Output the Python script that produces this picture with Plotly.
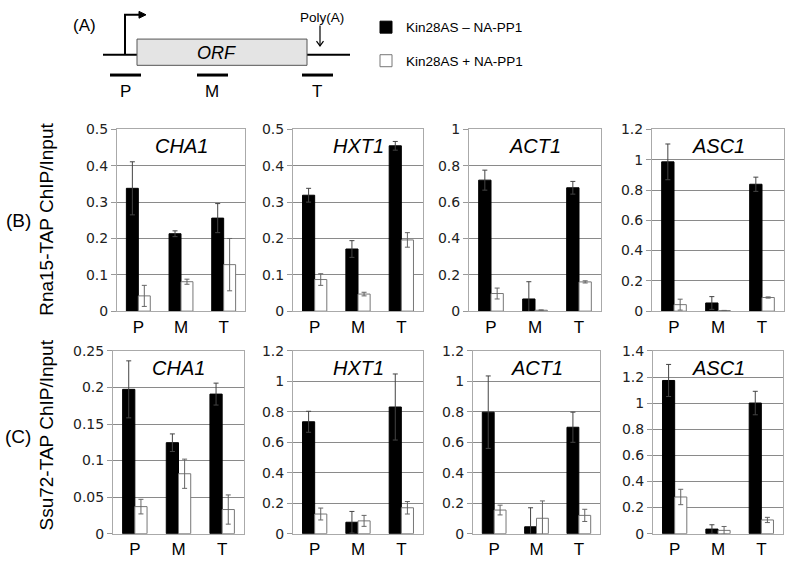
import plotly.graph_objects as go
from plotly.subplots import make_subplots

W, H = 787, 564

# data
genes = ['CHA1', 'HXT1', 'ACT1', 'ASC1']
regions = ['P', 'M', 'T']
series_names = ['Kin28AS \u2013 NA-PP1', 'Kin28AS + NA-PP1']

rna15_minus = [[0.338, 0.213, 0.256], [0.319, 0.171, 0.455], [0.721, 0.067, 0.679], [0.986, 0.054, 0.838]]
rna15_minus_err = [[0.073, 0.008, 0.040], [0.019, 0.023, 0.012], [0.055, 0.095, 0.035], [0.118, 0.042, 0.047]]
rna15_plus = [[0.042, 0.081, 0.128], [0.087, 0.047, 0.196], [0.097, 0.005, 0.161], [0.043, 0.004, 0.090]]
rna15_plus_err = [[0.029, 0.007, 0.072], [0.016, 0.005, 0.020], [0.030, 0.002, 0.006], [0.036, 0.001, 0.004]]

ssu72_minus = [[0.1975, 0.1245, 0.191], [0.735, 0.075, 0.832], [0.798, 0.045, 0.699], [1.174, 0.035, 1.001]]
ssu72_minus_err = [[0.039, 0.012, 0.015], [0.069, 0.071, 0.217], [0.238, 0.125, 0.099], [0.123, 0.033, 0.090]]
ssu72_plus = [[0.037, 0.082, 0.033], [0.129, 0.084, 0.170], [0.155, 0.101, 0.120], [0.281, 0.025, 0.105]]
ssu72_plus_err = [[0.010, 0.020, 0.020], [0.039, 0.036, 0.041], [0.032, 0.114, 0.040], [0.059, 0.030, 0.020]]

y_ranges = [[0.5, 0.5, 1.0, 1.2], [0.25, 1.2, 1.2, 1.4]]
y_dticks = [[0.1, 0.1, 0.2, 0.2], [0.05, 0.2, 0.2, 0.2]]
row_titles = ['Rna15-TAP ChIP/Input', 'Ssu72-TAP ChIP/Input']
row_tags = ['(B)', '(C)']

# panel placement in pixels
col_px = [[(117, 245), (293, 423), (469, 601), (652, 784)],
          [(113, 244), (293, 423), (473, 600), (653, 783)]]
row_px = [(125, 312), (353, 541)]


def fx(v):
    return v / W


def fy(v):
    return 1 - v / H


def sfx(n):
    return '' if n == 1 else str(n)


FONT = 'Liberation Sans, Arial, sans-serif'
TICKFONT = 'DejaVu Sans, Verdana, sans-serif'

fig = make_subplots(rows=2, cols=4)

rows_data = [(rna15_minus, rna15_minus_err, rna15_plus, rna15_plus_err),
             (ssu72_minus, ssu72_minus_err, ssu72_plus, ssu72_plus_err)]

for r, (m, me, p, pe) in enumerate(rows_data):
    for c in range(4):
        first = (r == 0 and c == 0)
        fig.add_trace(go.Bar(
            x=regions, y=m[c], name=series_names[0], legendgroup='a', showlegend=first,
            marker=dict(color='black', line=dict(color='black', width=1)),
            error_y=dict(type='data', array=me[c], color='#444', thickness=1, width=2.5),
        ), row=r + 1, col=c + 1)
        fig.add_trace(go.Bar(
            x=regions, y=p[c], name=series_names[1], legendgroup='b', showlegend=first,
            marker=dict(color='white', line=dict(color='#777', width=1)),
            error_y=dict(type='data', array=pe[c], color='#666', thickness=1, width=2.5),
        ), row=r + 1, col=c + 1)

annotations = []
for r in range(2):
    for c in range(4):
        n = r * 4 + c + 1
        x0, x1 = col_px[r][c]
        y0, y1 = row_px[r]
        fig.layout['xaxis' + sfx(n)].update(
            domain=[fx(x0), fx(x1)], anchor='y' + sfx(n),
            showline=True, linecolor='#aaa', mirror=True, ticks='',
            tickfont=dict(family=FONT, size=17, color='black'),
            showgrid=False,
        )
        fig.layout['yaxis' + sfx(n)].update(
            domain=[fy(y1), fy(y0)], anchor='x' + sfx(n),
            range=[0, y_ranges[r][c]], dtick=y_dticks[r][c],
            showline=True, linecolor='#aaa', mirror=True,
            ticks='outside', ticklen=5, tickcolor='#999',
            gridcolor='#8a8a8a', gridwidth=1, zeroline=False,
            tickfont=dict(family=TICKFONT, size=14, color='#222'),
        )
        annotations.append(dict(
            text='<i>%s</i>' % genes[c], xref='x%s domain' % sfx(n), yref='y%s domain' % sfx(n),
            x=0.5, y=1, xanchor='center', yanchor='top', yshift=-4, showarrow=False,
            font=dict(family=FONT, size=20, color='black'),
        ))

# row labels
for r in range(2):
    yc = [218, 440][r]
    annotations.append(dict(text=row_titles[r], x=fx(47), y=fy(yc), textangle=-90,
                            font=dict(family=FONT, size=19, color='black')))
    annotations.append(dict(text=row_tags[r], x=fx(18), y=fy(yc + 1),
                            font=dict(family=FONT, size=19, color='black')))

# gene schematic (A)
annotations += [
    dict(text='(A)', x=fx(84), y=fy(18)),
    dict(text='<i>ORF</i>', x=fx(216), y=fy(46), font=dict(family=FONT, size=18)),
    dict(text='Poly(A)', x=fx(322), y=fy(10), font=dict(family=FONT, size=13.5)),
    dict(text='P', x=fx(125), y=fy(86)),
    dict(text='M', x=fx(212), y=fy(86)),
    dict(text='T', x=fx(317), y=fy(86)),
]
for a in annotations:
    if a.get('xref') is None:
        a.update(xref='paper', yref='paper', xanchor='center', yanchor='middle', showarrow=False)
        a.setdefault('font', dict(family=FONT, size=17))

shapes = [
    dict(type='line', x0=fx(103), x1=fx(350), y0=fy(48), y1=fy(48), line=dict(color='black', width=2)),
    dict(type='rect', x0=fx(137), x1=fx(307), y0=fy(59), y1=fy(32), fillcolor='#e4e4e4',
         line=dict(color='#555', width=1)),
    dict(type='path', path='M %f %f L %f %f L %f %f' % (fx(125), fy(48), fx(125), fy(7), fx(140), fy(7)),
         line=dict(color='black', width=2)),
    dict(type='path', path='M %f %f L %f %f L %f %f Z' % (fx(139), fy(3.5), fx(146), fy(7), fx(139), fy(10.5)),
         fillcolor='black', line=dict(color='black', width=1)),
    dict(type='line', x0=fx(320), x1=fx(320), y0=fy(18), y1=fy(39), line=dict(color='black', width=1.2)),
    dict(type='path', path='M %f %f L %f %f L %f %f' % (fx(316.5), fy(34), fx(320), fy(39), fx(323.5), fy(34)),
         line=dict(color='black', width=1.2)),
    dict(type='line', x0=fx(110), x1=fx(141), y0=fy(69), y1=fy(69), line=dict(color='black', width=3)),
    dict(type='line', x0=fx(197), x1=fx(228), y0=fy(69), y1=fy(69), line=dict(color='black', width=3)),
    dict(type='line', x0=fx(302), x1=fx(333), y0=fy(69), y1=fy(69), line=dict(color='black', width=3)),
]
for s in shapes:
    s['xref'] = 'paper'
    s['yref'] = 'paper'

fig.update_layout(
    width=W, height=H, margin=dict(l=0, r=0, t=0, b=0),
    paper_bgcolor='white', plot_bgcolor='white',
    barmode='group', bargap=0.44, bargroupgap=0,
    font=dict(family=FONT, size=14, color='black'),
    annotations=annotations, shapes=shapes,
    legend=dict(x=fx(366), y=fy(4), xanchor='left', yanchor='top',
                font=dict(family=FONT, size=13.5, color='black'),
                tracegroupgap=13, bgcolor='rgba(0,0,0,0)'),
)

# put the figure at the page corner so it fills the window exactly
fig.write_html('out.html', config={'displayModeBar': False},
               post_script="document.body.style.margin='0';")
